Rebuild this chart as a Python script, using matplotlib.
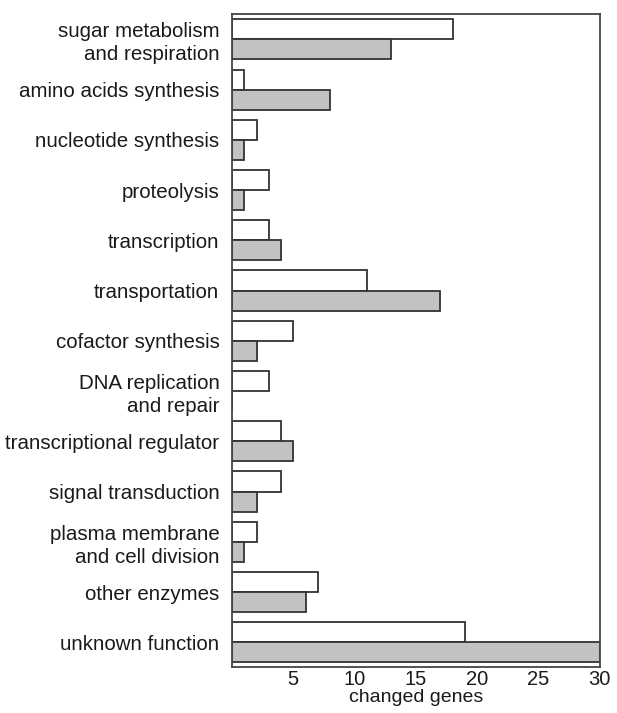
import matplotlib
matplotlib.use("Agg")
import matplotlib.pyplot as plt
import numpy as np

plt.rcParams['font.family'] = ['Liberation Sans', 'DejaVu Sans']

categories = ["sugar metabolism\nand respiration", "amino acids synthesis",
              "nucleotide synthesis", "proteolysis", "transcription",
              "transportation", "cofactor synthesis", "DNA replication\nand repair",
              "transcriptional regulator", "signal transduction",
              "plasma membrane\nand cell division", "other enzymes", "unknown function"]
white_vals = [18, 1, 2, 3, 3, 11, 5, 3, 4, 4, 2, 7, 19]
gray_vals = [13, 8, 1, 1, 4, 17, 2, 0, 5, 2, 1, 6, 30]

y = np.arange(len(categories))
h = 0.40

fig = plt.figure(figsize=(6.17, 7.13), dpi=100)
ax = fig.add_axes([0.376, 0.064, 0.596, 0.916])

ax.barh(y - h / 2, white_vals, height=h, color='white', edgecolor='#333333', linewidth=1.3)
ax.barh(y + h / 2, gray_vals, height=h, color='#c2c2c2', edgecolor='#333333', linewidth=1.3)

ax.set_ylim(len(categories) - 0.5, -0.5)
ax.set_xlim(0, 30)
ax.set_yticks(y)
ax.set_yticklabels(categories, fontsize=14.8, linespacing=1.25, color='#1a1a1a')
ax.set_xticks([5, 10, 15, 20, 25, 30])
ax.tick_params(axis='y', length=0, pad=9)
ax.tick_params(axis='x', length=0, pad=2, labelsize=14.5, labelcolor='#1a1a1a')
for s in ax.spines.values():
    s.set_color('#444444')
    s.set_linewidth(1.3)

ax.set_xlabel("changed genes", fontsize=14, labelpad=0, color='#1a1a1a')

fig.savefig("out.png", dpi=100)
